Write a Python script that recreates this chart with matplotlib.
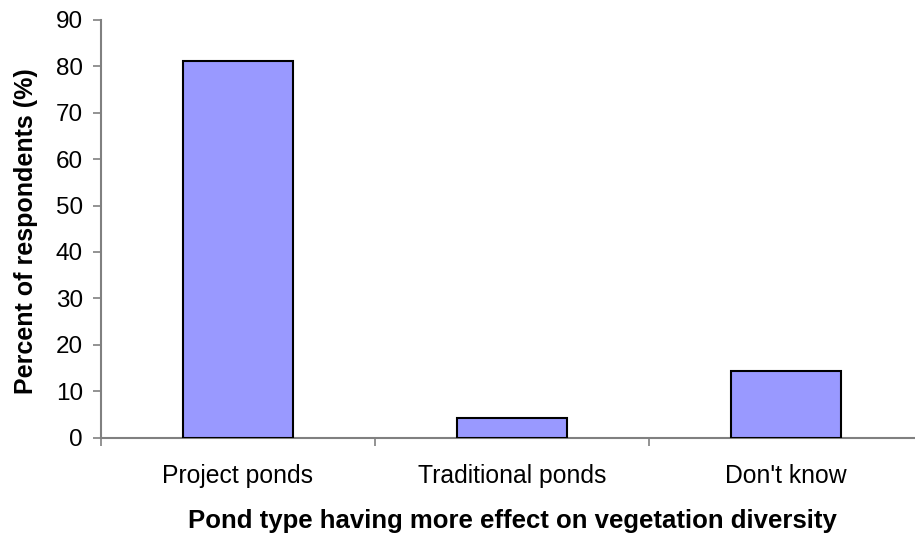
import matplotlib
matplotlib.use("Agg")
import matplotlib.pyplot as plt
import matplotlib.transforms as mtransforms

categories = ["Project ponds", "Traditional ponds", "Don't know"]
values = [81.2, 4.2, 14.3]
yticks = [0, 10, 20, 30, 40, 50, 60, 70, 80, 90]

plt.rcParams['font.family'] = ['Liberation Sans', 'DejaVu Sans']

W, H = 915, 536
fig = plt.figure(figsize=(W/100, H/100), dpi=100)
left, right, top, bottom = 101, 923, 20, 437.5
ax = fig.add_axes([left/W, 1 - bottom/H, (right-left)/W, (bottom-top)/H])

x = list(range(len(categories)))
ax.bar(x, values, width=0.40, color='#9999FF', edgecolor='black', linewidth=1.5, zorder=3)

ax.set_xlim(-0.5, 2.5)
ax.set_ylim(0, 90)
ax.set_yticks(yticks)
ax.set_yticklabels([str(t) for t in yticks], fontsize=17.5)
ax.set_xticks([-0.5, 0.5, 1.5, 2.5])
ax.set_xticklabels([])
ax.tick_params(axis='x', length=6, width=1.2, color='#808080', direction='out')
ax.tick_params(axis='y', length=6, width=1.2, color='#808080', direction='out', pad=7)

trans = mtransforms.blended_transform_factory(ax.transData, fig.transFigure)
for i, c in enumerate(categories):
    ax.text(i, 1 - 483/H, c, ha='center', va='baseline', fontsize=17.8, transform=trans)

for s in ['top', 'right']:
    ax.spines[s].set_visible(False)
for s in ['left', 'bottom']:
    ax.spines[s].set_color('#808080')
    ax.spines[s].set_linewidth(1.5)

fig.text(512/W, 1 - 528/H, "Pond type having more effect on vegetation diversity",
         ha='center', va='baseline', fontsize=18.5, fontweight='bold')
fig.text(33/W, 1 - 231/H, "Percent of respondents (%)", rotation=90, rotation_mode='anchor',
         ha='center', va='baseline', fontsize=18, fontweight='bold')

fig.savefig("out.png", dpi=100)
